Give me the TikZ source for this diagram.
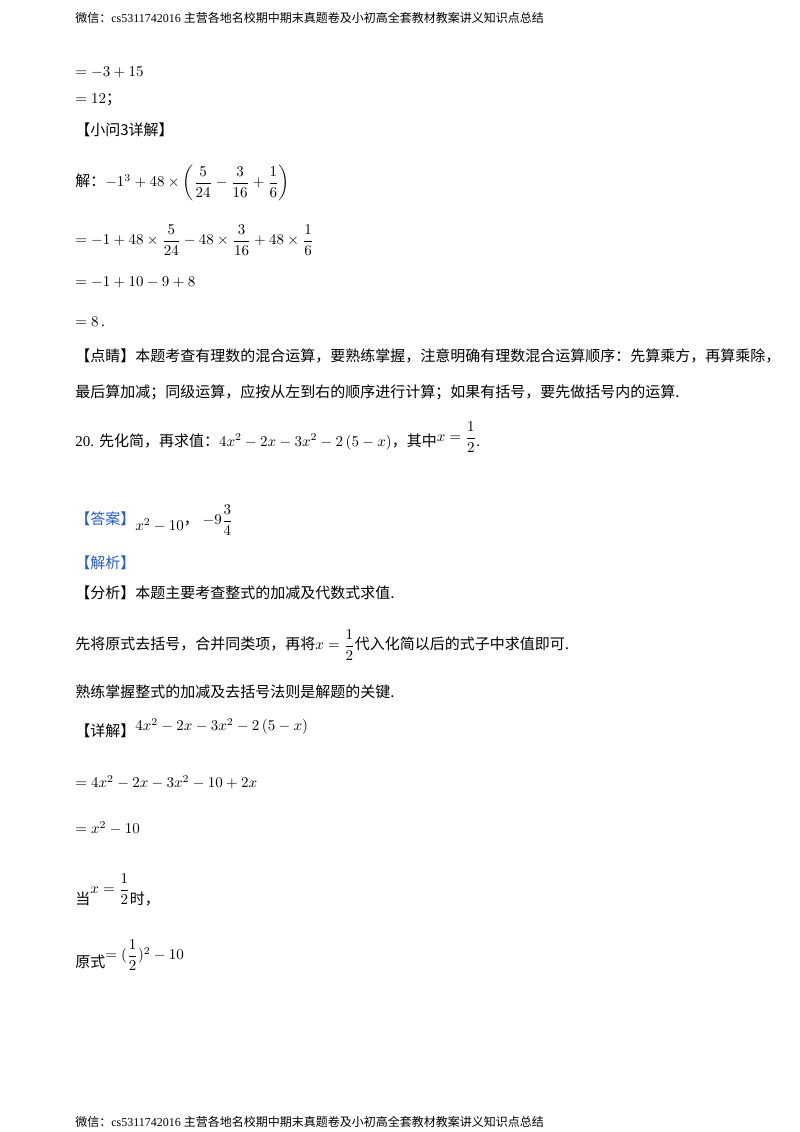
\documentclass[tikz,border=0pt]{standalone}
\usepackage{amsmath}
\usepackage{fontspec}
\setmainfont{Liberation Serif}
\newfontfamily\cjk{Noto Sans CJK SC}
\definecolor{ansblue}{RGB}{40,90,200}
\tikzset{t/.style={anchor=west,inner sep=0pt,font=\fontsize{10}{12}\selectfont},
 hd/.style={anchor=west,inner sep=0pt,font=\fontsize{8}{10}\selectfont}}
\begin{document}
\begin{tikzpicture}[x=0.6667pt,y=-0.6667pt]
\useasboundingbox (0,0) rectangle (800,1132);
\node[hd] (h) at (75,18) {{\cjk 微信：}cs5311742016 {\cjk 主营各地名校期中期末真题卷及小初高全套教材教案讲义知识点总结}};
\node[t] (a1) at (75,72) {$=-3+15$};
\node[t] (a2) at (75,100) {$=12${\cjk ；}};
\node[t] (a3) at (75,130) {\cjk 【小问3详解】};
\node[t] (a4) at (75,183) {{\cjk 解：}$-1^3+48\times\left(\dfrac{5}{24}-\dfrac{3}{16}+\dfrac{1}{6}\right)$};
\node[t] (a5) at (75,240) {$=-1+48\times\dfrac{5}{24}-48\times\dfrac{3}{16}+48\times\dfrac{1}{6}$};
\node[t] (a6) at (75,282) {$=-1+10-9+8$};
\node[t] (a7) at (75,322) {$=8$\,.};
\node[t] (a8) at (75,356) {\cjk 【点睛】本题考查有理数的混合运算，要熟练掌握，注意明确有理数混合运算顺序：先算乘方，再算乘除，};
\node[t] (a9) at (75,392) {\cjk 最后算加减；同级运算，应按从左到右的顺序进行计算；如果有括号，要先做括号内的运算.};
\node[t] (q) at (75,437) {20. {\cjk 先化简，再求值：}$4x^2-2x-3x^2-2\left(5-x\right)${\cjk ，其中}\raisebox{3pt}{$x=\dfrac{1}{2}$}.};
\node[t] (ans) at (75,520) {{\cjk\color{ansblue}【答案】}\raisebox{-4pt}{$x^2-10$}{\cjk ，} $-9\dfrac{3}{4}$};
\node[t] (jx) at (75,563) {\cjk\color{ansblue}【解析】};
\node[t] (fx) at (75,593) {\cjk 【分析】本题主要考查整式的加减及代数式求值.};
\node[t] (b1) at (75,645) {{\cjk 先将原式去括号，合并同类项，再将}$x=\dfrac{1}{2}${\cjk 代入化简以后的式子中求值即可.}};
\node[t] (b2) at (75,692) {\cjk 熟练掌握整式的加减及去括号法则是解题的关键.};
\node[t] (b3) at (75,728) {{\cjk 【详解】}\raisebox{4pt}{$4x^2-2x-3x^2-2\left(5-x\right)$}};
\node[t] (b4) at (75,782) {$=4x^2-2x-3x^2-10+2x$};
\node[t] (b5) at (75,828) {$=x^2-10$};
\node[t] (b6) at (75,890) {{\cjk 当}\raisebox{7pt}{$x=\dfrac{1}{2}$}{\cjk 时，}};
\node[t] (b7) at (75,955) {{\cjk 原式}\raisebox{5pt}{$=(\dfrac{1}{2})^2-10$}};
\node[hd] (f) at (75,1122) {{\cjk 微信：}cs5311742016 {\cjk 主营各地名校期中期末真题卷及小初高全套教材教案讲义知识点总结}};
\end{tikzpicture}
\end{document}
